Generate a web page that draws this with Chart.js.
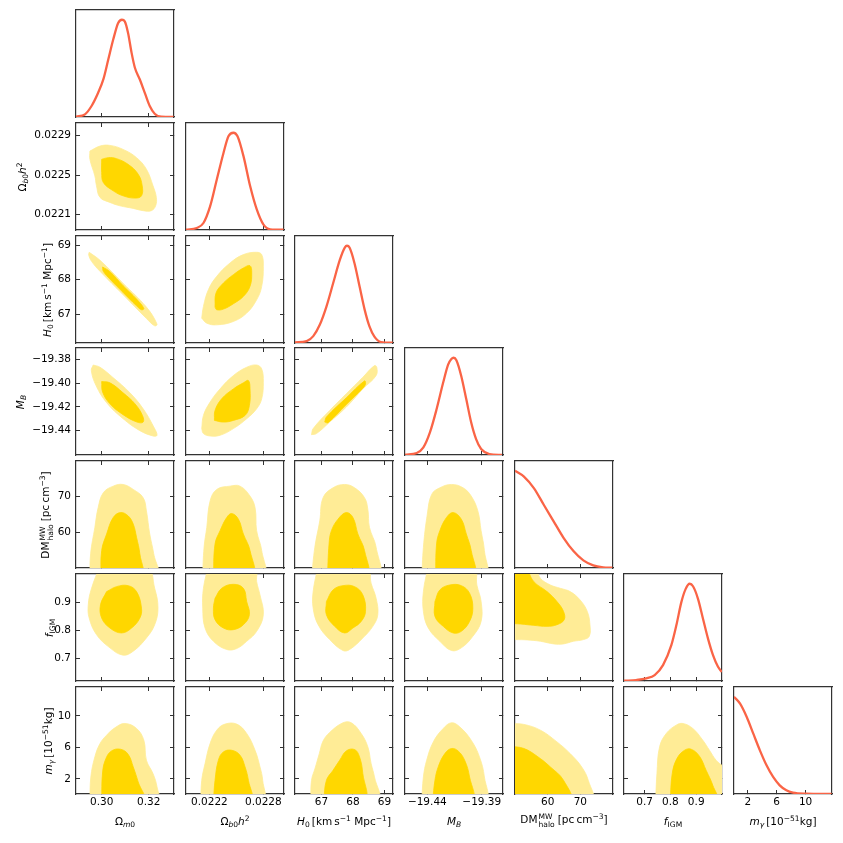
<!DOCTYPE html>
<html>
<head>
<meta charset="utf-8">
<script src="https://cdn.jsdelivr.net/npm/chart.js@4.4.1/dist/chart.umd.min.js"></script>
<style>
  body { margin: 0; background: #fff; width: 843px; height: 843px; position: relative; overflow: hidden; font-family: "DejaVu Sans", sans-serif; }
  canvas { position: absolute; }
  .lab { position: absolute; font-size: 10.5px; color: #000; white-space: nowrap; line-height: 1; }
  .lab sub, .lab sup { font-size: 0.72em; line-height: 0; }
  .lab sub { vertical-align: -0.3em; }
  .lab sup { vertical-align: 0.5em; }
  .ss { display: inline-flex; flex-direction: column; font-size: 0.72em; line-height: 1; vertical-align: 0.45em; margin: 0 1px; }
</style>
</head>
<body>
<script>
// axis ranges for the 7 parameters (Om, Ob h^2, H0, MB, DM_halo, f_IGM, m_gamma)
const axisMin = [0.2891, 0.02194, 66.16, -19.4605, 50, 0.62, 0.1];
const axisMax = [0.3307, 0.02303, 69.27, -19.3705, 80, 1.0, 13.65];

// tick values / labels along x (columns) and y (rows)
const xTickVals = [[0.30, 0.32], [0.0222, 0.0228], [67, 68, 69], [-19.44, -19.39], [60, 70], [0.7, 0.8, 0.9], [2, 6, 10]];
const xTickText = [["0.30", "0.32"], ["0.0222", "0.0228"], ["67", "68", "69"], ["\u221219.44", "\u221219.39"], ["60", "70"], ["0.7", "0.8", "0.9"], ["2", "6", "10"]];
const yTickVals = [[], [0.0221, 0.0225, 0.0229], [67, 68, 69], [-19.44, -19.42, -19.40, -19.38], [60, 70], [0.7, 0.8, 0.9], [2, 6, 10]];
const yTickText = [[], ["0.0221", "0.0225", "0.0229"], ["67", "68", "69"], ["\u221219.44", "\u221219.42", "\u221219.40", "\u221219.38"], ["60", "70"], ["0.7", "0.8", "0.9"], ["2", "6", "10"]];

// 1D marginal posteriors (peak normalised to 1)
const pdfOm = [[0.2891,0.003],[0.2929,0.027],[0.2957,0.113],[0.2985,0.249],[0.3007,0.386],[0.3028,0.591],[0.3049,0.796],[0.3070,0.967],[0.3086,1.0],[0.3098,0.984],[0.3112,0.864],[0.3127,0.659],[0.3141,0.506],[0.3162,0.386],[0.3183,0.249],[0.3204,0.113],[0.3225,0.034],[0.3253,0.003],[0.3305,0.0]];
const pdfOb = [[0.02194,0.003],[0.022060,0.021],[0.022134,0.072],[0.022208,0.243],[0.022282,0.517],[0.022357,0.792],[0.022412,0.963],[0.022468,1.0],[0.022513,0.963],[0.022580,0.757],[0.022654,0.449],[0.022728,0.209],[0.022802,0.055],[0.022877,0.007],[0.023025,0.003]];
const pdfH0 = [[66.16,0.007],[66.53,0.02],[66.74,0.071],[66.95,0.19],[67.16,0.377],[67.37,0.614],[67.58,0.852],[67.74,0.981],[67.81,1.0],[67.89,0.981],[68.05,0.818],[68.21,0.58],[68.37,0.343],[68.52,0.173],[68.68,0.065],[68.89,0.01],[69.26,0.003]];
const pdfMB = [[-19.4603,0.003],[-19.4497,0.02],[-19.4436,0.078],[-19.4376,0.232],[-19.4315,0.47],[-19.4255,0.742],[-19.4209,0.93],[-19.4179,0.988],[-19.4158,1.0],[-19.4133,0.974],[-19.4088,0.81],[-19.4042,0.572],[-19.3997,0.334],[-19.3952,0.163],[-19.3906,0.061],[-19.3830,0.01],[-19.3715,0.0]];
const pdfDM = [[50.0,1.0],[52.74,0.94],[55.77,0.821],[58.8,0.65],[61.83,0.48],[64.86,0.31],[67.89,0.174],[70.92,0.078],[73.95,0.027],[76.98,0.007],[79.8,0.003]];
const pdfF = [[0.62,0.003],[0.6679,0.01],[0.7067,0.027],[0.7390,0.061],[0.7713,0.163],[0.8036,0.368],[0.8230,0.572],[0.8424,0.811],[0.8592,0.947],[0.8747,1.0],[0.8876,0.974],[0.9069,0.845],[0.9263,0.64],[0.9457,0.436],[0.9651,0.266],[0.9845,0.146],[0.9995,0.093]];
const pdfMg = [[0.1,1.0],[0.94,0.929],[1.86,0.792],[2.77,0.62],[3.68,0.449],[4.6,0.295],[5.51,0.175],[6.42,0.089],[7.34,0.038],[8.25,0.014],[10.08,0.003],[13.6,0.0]];

// 2D contours: ...2 = outer (95%), ...1 = inner (68%)
const cOmOb2 = [[0.2950,0.022744],[0.2993,0.022795],[0.3035,0.022802],[0.3091,0.022761],[0.3148,0.022677],[0.3190,0.022559],[0.3218,0.022390],[0.3232,0.022272],[0.3229,0.022187],[0.3211,0.022137],[0.3176,0.022137],[0.3134,0.022160],[0.3077,0.022187],[0.3035,0.022221],[0.2993,0.022272],[0.2978,0.022390],[0.2971,0.022491],[0.2950,0.022660]];
const cOmOb1 = [[0.3000,0.022660],[0.3028,0.022677],[0.3063,0.022667],[0.3112,0.022609],[0.3155,0.022508],[0.3172,0.022390],[0.3169,0.022288],[0.3141,0.022265],[0.3091,0.022288],[0.3049,0.022339],[0.3007,0.022424],[0.3000,0.022525]];
const cOmH2 = [[0.2947,68.797],[0.2993,68.564],[0.3091,67.893],[0.3190,67.203],[0.3235,66.708],[0.3225,66.659],[0.3190,66.873],[0.3091,67.563],[0.2993,68.243],[0.2957,68.534],[0.2945,68.719]];
const cOmH1 = [[0.3004,68.369],[0.3035,68.233],[0.3091,67.825],[0.3148,67.437],[0.3179,67.164],[0.3169,67.126],[0.3148,67.242],[0.3091,67.631],[0.3035,68.020],[0.3007,68.243]];
const cOmMB2 = [[0.2964,-19.3848],[0.2993,-19.3867],[0.3049,-19.3955],[0.3119,-19.4080],[0.3176,-19.4216],[0.3221,-19.4369],[0.3235,-19.4439],[0.3218,-19.4445],[0.3162,-19.4400],[0.3091,-19.4300],[0.3021,-19.4165],[0.2976,-19.4021],[0.2956,-19.3895]];
const cOmMB1 = [[0.3000,-19.3987],[0.3035,-19.3998],[0.3091,-19.4082],[0.3141,-19.4174],[0.3173,-19.4272],[0.3176,-19.4328],[0.3150,-19.4328],[0.3091,-19.4266],[0.3035,-19.4174],[0.3004,-19.4076]];
const cOmDM2 = [[0.2950,47],[0.2953,53.97],[0.2971,61.38],[0.2985,66.94],[0.3007,71.10],[0.3049,72.95],[0.3091,73.42],[0.3134,72.03],[0.3176,69.71],[0.3190,66.01],[0.3204,59.53],[0.3221,53.97],[0.3235,47]];
const cOmDM1 = [[0.2997,47],[0.3000,54.90],[0.3021,59.53],[0.3049,64.16],[0.3080,65.55],[0.3112,64.62],[0.3134,62.31],[0.3148,58.60],[0.3162,53.97],[0.3169,47]];
const cOmF2 = [[0.2993,1.03],[0.2957,0.9493],[0.2943,0.8905],[0.2947,0.8435],[0.2978,0.7847],[0.3035,0.7377],[0.3091,0.7118],[0.3134,0.7259],[0.3190,0.7729],[0.3225,0.8199],[0.3239,0.8787],[0.3225,0.9493],[0.3190,1.03]];
const cOmF1 = [[0.3021,0.9375],[0.3063,0.9551],[0.3112,0.9587],[0.3148,0.9375],[0.3169,0.8787],[0.3162,0.8435],[0.3127,0.8082],[0.3084,0.7906],[0.3035,0.8082],[0.3000,0.8435],[0.2995,0.8905]];
const cOmMg2 = [[0.2950,-0.8],[0.2954,2.26],[0.2971,4.80],[0.2993,6.49],[0.3021,7.55],[0.3056,8.48],[0.3098,9.03],[0.3148,8.40],[0.3179,6.91],[0.3190,4.37],[0.3218,2.68],[0.3235,0.99],[0.3238,-0.8]];
const cOmMg1 = [[0.3000,-0.8],[0.3004,2.89],[0.3018,4.59],[0.3042,5.56],[0.3080,5.77],[0.3112,5.14],[0.3134,3.53],[0.3155,1.62],[0.3179,-0.8]];

const cObH2 = [[0.022115,66.883],[0.022134,67.223],[0.022189,67.709],[0.022282,68.097],[0.022430,68.486],[0.022578,68.729],[0.022726,68.797],[0.022782,68.729],[0.022800,68.389],[0.022782,67.806],[0.022726,67.417],[0.022615,67.029],[0.022467,66.785],[0.022282,66.688],[0.022171,66.737]];
const cObH1 = [[0.022263,67.203],[0.022274,67.612],[0.022356,67.903],[0.022467,68.146],[0.022578,68.340],[0.022652,68.408],[0.022671,68.195],[0.022652,67.806],[0.022578,67.514],[0.022467,67.301],[0.022356,67.145],[0.022282,67.126]];
const cObMB2 = [[0.022115,-19.4383],[0.022134,-19.4272],[0.022208,-19.4160],[0.022319,-19.4049],[0.022467,-19.3937],[0.022615,-19.3867],[0.022726,-19.3848],[0.022782,-19.3881],[0.022800,-19.3993],[0.022782,-19.4132],[0.022726,-19.4216],[0.022615,-19.4300],[0.022467,-19.4383],[0.022319,-19.4439],[0.022208,-19.4445],[0.022134,-19.4425]];
const cObMB1 = [[0.022256,-19.4314],[0.022263,-19.4230],[0.022337,-19.4132],[0.022467,-19.4049],[0.022578,-19.3998],[0.022634,-19.3979],[0.022652,-19.4049],[0.022645,-19.4188],[0.022597,-19.4272],[0.022467,-19.4314],[0.022356,-19.4328]];
const cObDM2 = [[0.022123,47],[0.022141,55.82],[0.022171,61.38],[0.022208,68.79],[0.022282,72.03],[0.022430,72.95],[0.022541,72.95],[0.022652,70.17],[0.022708,66.94],[0.022726,60.45],[0.022782,54.90],[0.022800,47]];
const cObDM1 = [[0.022245,47],[0.022263,56.75],[0.022319,60.45],[0.022393,64.16],[0.022449,65.27],[0.022523,63.69],[0.022578,59.53],[0.022652,54.90],[0.022682,47]];
const cObF2 = [[0.022189,1.03],[0.022134,0.9493],[0.022126,0.8787],[0.022152,0.8082],[0.022245,0.7611],[0.022393,0.7318],[0.022504,0.7353],[0.022615,0.7611],[0.022726,0.7964],[0.022800,0.8552],[0.022763,0.9257],[0.022726,0.9728],[0.022708,1.03]];
const cObF1 = [[0.022263,0.9140],[0.022337,0.9493],[0.022467,0.9634],[0.022578,0.9493],[0.022615,0.9022],[0.022645,0.8552],[0.022578,0.8199],[0.022467,0.8023],[0.022356,0.8082],[0.022263,0.8376],[0.022245,0.8787]];
const cObMg2 = [[0.022104,-0.8],[0.022115,1.83],[0.022152,3.95],[0.022208,6.49],[0.022282,8.18],[0.022374,8.95],[0.022504,8.95],[0.022615,7.76],[0.022708,5.64],[0.022763,3.53],[0.022793,1.83],[0.022793,-0.8]];
const cObMg1 = [[0.022245,-0.8],[0.022263,1.83],[0.022300,4.37],[0.022356,5.43],[0.022449,5.64],[0.022541,5.01],[0.022597,3.53],[0.022634,1.83],[0.022660,-0.8]];

const cHMB2 = [[66.684,-19.4434],[66.736,-19.4383],[67.262,-19.4230],[67.788,-19.4090],[68.313,-19.3951],[68.682,-19.3853],[68.755,-19.3867],[68.734,-19.3937],[68.313,-19.4049],[67.788,-19.4202],[67.262,-19.4328],[66.841,-19.4425]];
const cHMB1 = [[67.104,-19.4328],[67.157,-19.4286],[67.788,-19.4124],[68.366,-19.3982],[68.398,-19.4007],[68.313,-19.4043],[67.788,-19.4180],[67.209,-19.4333]];
const cHDM2 = [[66.684,47],[66.789,55.82],[66.946,63.23],[67.051,69.71],[67.367,72.49],[67.735,73.42],[68.051,72.49],[68.366,69.71],[68.471,66.47],[68.524,61.38],[68.734,55.82],[68.787,47]];
const cHDM1 = [[67.188,47],[67.241,56.75],[67.315,60.45],[67.525,63.69],[67.788,65.55],[67.998,64.16],[68.156,59.53],[68.366,54.90],[68.440,47]];
const cHF2 = [[66.894,1.03],[66.736,0.9375],[66.736,0.8787],[66.894,0.8199],[67.262,0.7670],[67.683,0.7282],[67.893,0.7318],[68.313,0.7729],[68.629,0.8141],[68.787,0.8552],[68.734,0.9140],[68.576,0.9669],[68.440,1.03]];
const cHF1 = [[67.157,0.9022],[67.367,0.9434],[67.683,0.9587],[68.051,0.9551],[68.313,0.9257],[68.398,0.8670],[68.261,0.8317],[67.998,0.8082],[67.735,0.7906],[67.420,0.8141],[67.157,0.8552]];
const cHMg2 = [[66.662,-0.8],[66.684,1.83],[66.800,3.40],[66.930,5.20],[67.050,6.80],[67.262,7.90],[67.683,9.12],[67.946,9.12],[68.261,7.76],[68.471,6.07],[68.576,3.95],[68.682,2.26],[68.787,-0.8]];
const cHMg1 = [[67.073,-0.8],[67.157,1.83],[67.367,3.10],[67.577,4.37],[67.788,5.56],[68.051,5.73],[68.208,4.80],[68.313,2.68],[68.366,-0.8]];

const cMBDM2 = [[-19.4451,47],[-19.4436,55.82],[-19.4400,65.08],[-19.4360,70.64],[-19.4285,72.49],[-19.4178,73.42],[-19.4072,72.49],[-19.3997,70.17],[-19.3936,66.01],[-19.3906,60.45],[-19.3876,54.90],[-19.3869,47]];
const cMBDM1 = [[-19.4324,47],[-19.4315,56.75],[-19.4285,60.45],[-19.4224,64.16],[-19.4163,65.55],[-19.4088,63.69],[-19.4042,59.53],[-19.3997,54.90],[-19.3972,47]];
const cMBF2 = [[-19.4391,1.03],[-19.4436,0.9375],[-19.4436,0.8670],[-19.4391,0.8082],[-19.4285,0.7611],[-19.4178,0.7282],[-19.4088,0.7377],[-19.3982,0.7788],[-19.3906,0.8317],[-19.3906,0.9022],[-19.3945,0.9610],[-19.3975,1.03]];
const cMBF1 = [[-19.4330,0.9022],[-19.4285,0.9434],[-19.4194,0.9610],[-19.4088,0.9587],[-19.4012,0.9316],[-19.3982,0.8787],[-19.4012,0.8317],[-19.4088,0.7964],[-19.4163,0.7906],[-19.4254,0.8141],[-19.4330,0.8494]];
const cMBMg2 = [[-19.4451,-0.8],[-19.4436,2.26],[-19.4406,4.37],[-19.4345,6.70],[-19.4254,8.40],[-19.4178,9.12],[-19.4103,8.61],[-19.3997,6.91],[-19.3921,4.80],[-19.3876,2.26],[-19.3869,-0.8]];
const cMBMg1 = [[-19.4351,-0.8],[-19.4330,1.83],[-19.4300,3.53],[-19.4239,5.22],[-19.4178,5.86],[-19.4118,5.56],[-19.4057,4.37],[-19.4012,2.26],[-19.3988,-0.8]];

const cDMF2 = [[48.5,1.03],[55.77,1.03],[57.79,0.9846],[60.82,0.9610],[63.85,0.9493],[66.88,0.9375],[69.91,0.9081],[72.13,0.8670],[72.94,0.8199],[72.74,0.7788],[70.92,0.7670],[67.89,0.7611],[64.86,0.7518],[61.83,0.7518],[57.79,0.7611],[53.75,0.7659],[50.0,0.7670],[48.5,0.7670]];
const cDMF1 = [[48.5,1.03],[52.74,1.03],[55.77,0.9728],[59.81,0.9375],[62.84,0.9022],[64.86,0.8670],[65.06,0.8376],[62.84,0.8199],[59.81,0.8141],[55.77,0.8176],[51.73,0.8223],[50.0,0.8235],[48.5,0.8235]];
const cDMMg2 = [[48.5,9.03],[52.74,8.91],[57.79,8.18],[62.84,6.70],[66.88,5.22],[70.41,3.53],[72.43,1.83],[73.44,-0.8],[48.5,-0.8]];
const cDMMg1 = [[48.5,6.15],[52.74,5.86],[56.78,4.88],[60.82,3.53],[64.86,1.83],[66.88,-0.8],[48.5,-0.8]];

const cFMg2 = [[0.7425,-0.8],[0.7477,2.68],[0.7580,6.07],[0.7838,7.76],[0.8225,8.82],[0.8483,9.03],[0.8869,8.40],[0.9256,6.91],[0.9514,5.64],[0.9772,4.37],[1.02,2.9],[1.02,-0.8]];
const cFMg1 = [[0.7993,-0.8],[0.8070,2.68],[0.8251,4.58],[0.8547,5.64],[0.8805,5.77],[0.9127,4.88],[0.9385,3.10],[0.9643,1.20],[0.9798,-0.8]];

const diagCurves = [pdfOm, pdfOb, pdfH0, pdfMB, pdfDM, pdfF, pdfMg];

// [row, col, outer, inner]
const contourPanels = [
  [1, 0, cOmOb2, cOmOb1],
  [2, 0, cOmH2, cOmH1], [2, 1, cObH2, cObH1],
  [3, 0, cOmMB2, cOmMB1], [3, 1, cObMB2, cObMB1], [3, 2, cHMB2, cHMB1],
  [4, 0, cOmDM2, cOmDM1], [4, 1, cObDM2, cObDM1], [4, 2, cHDM2, cHDM1], [4, 3, cMBDM2, cMBDM1],
  [5, 0, cOmF2, cOmF1], [5, 1, cObF2, cObF1], [5, 2, cHF2, cHF1], [5, 3, cMBF2, cMBF1], [5, 4, cDMF2, cDMF1],
  [6, 0, cOmMg2, cOmMg1], [6, 1, cObMg2, cObMg1], [6, 2, cHMg2, cHMg1], [6, 3, cMBMg2, cMBMg1], [6, 4, cDMMg2, cDMMg1], [6, 5, cFMg2, cFMg1]
];

const xLabels = [
  'Ω<sub><i>m</i>0</sub>',
  'Ω<sub><i>b</i>0</sub><i>h</i><sup>2</sup>',
  '<i>H</i><sub>0</sub>&thinsp;[km&thinsp;s<sup>−1</sup> Mpc<sup>−1</sup>]',
  '<i>M</i><sub><i>B</i></sub>',
  'DM<span class="ss"><span>MW</span><span>halo</span></span>&thinsp;[pc&thinsp;cm<sup>−3</sup>]',
  '<i>f</i><sub>IGM</sub>',
  '<i>m</i><sub><i>γ</i></sub>&thinsp;[10<sup>−51</sup>kg]'
];
const yLabelX = [0, 22, 47, 20, 47, 49, 48];

const SPINE = '#333333';
const LINE = '#fa6446';
const INNER = '#ffd700';
const OUTER = '#ffec96';

const PW = 98, PH = 107;
function panelLeft(col) { return Math.round(76 + col * 109.67); }
function panelTop(row) { return Math.round(10.3 + row * 112.73); }

function buildAxis(pos, min, max, vals, texts, size, showLabels) {
  const horizontal = pos === 'top' || pos === 'bottom';
  return {
    type: 'linear',
    position: pos,
    min: min,
    max: max,
    grid: { display: true, drawOnChartArea: false, drawTicks: true, tickLength: -4, tickWidth: 1, tickColor: SPINE },
    border: { display: true, color: SPINE, width: 1.2 },
    ticks: {
      display: showLabels,
      autoSkip: false,
      maxRotation: 0,
      padding: horizontal ? 6 : 9,
      color: '#000',
      font: { family: 'DejaVu Sans', size: 10.5 },
      callback: function(value, index) { return texts[index]; }
    },
    afterBuildTicks: function(axis) { axis.ticks = vals.map(v => ({ value: v })); },
    afterFit: function(axis) {
      // keep the plot box fixed: no extra room for overhanging labels
      axis.paddingLeft = 0; axis.paddingRight = 0; axis.paddingTop = 0; axis.paddingBottom = 0;
      if (horizontal) axis.height = size; else axis.width = size;
    }
  };
}

function toPoints(arr, close) {
  const pts = arr.map(p => ({ x: p[0], y: p[1] }));
  if (close) pts.push({ x: arr[0][0], y: arr[0][1] });
  return pts;
}

function makePanel(row, col, datasets, diag) {
  const padL = (col === 0 && !diag) ? 60 : 0;
  const padB = row === 6 ? 24 : 0;
  const cv = document.createElement('canvas');
  cv.width = PW + padL + 4;
  cv.height = PH + padB + 4;
  cv.style.left = (panelLeft(col) - padL - 2) + 'px';
  cv.style.top = (panelTop(row) - 2) + 'px';
  document.body.appendChild(cv);

  const xs = xTickVals[col];
  const ys = diag ? [] : yTickVals[row];
  const yMin = diag ? 0 : axisMin[row];
  const yMax = diag ? 1.1 : axisMax[row];

  new Chart(cv, {
    type: 'scatter',
    data: { datasets: datasets },
    options: {
      responsive: false,
      animation: false,
      events: [],
      layout: { padding: { left: 2, right: 2, top: 2, bottom: 2 } },
      plugins: { legend: { display: false }, tooltip: { enabled: false } },
      scales: {
        x: buildAxis('bottom', axisMin[col], axisMax[col], xs, xTickText[col], padB, row === 6),
        x2: buildAxis('top', axisMin[col], axisMax[col], diag ? [] : xs, xTickText[col], 0, false),
        y: buildAxis('left', yMin, yMax, ys, diag ? [] : yTickText[row], padL, padL > 0),
        y2: buildAxis('right', yMin, yMax, ys, diag ? [] : yTickText[row], 0, false)
      }
    }
  });
}

// diagonal panels
diagCurves.forEach(function(curve, i) {
  makePanel(i, i, [{
    data: toPoints(curve, false),
    showLine: true,
    borderColor: LINE,
    borderWidth: 2.3,
    pointRadius: 0,
    cubicInterpolationMode: 'monotone',
    fill: false
  }], true);
});

// off-diagonal contour panels
contourPanels.forEach(function(p) {
  const common = { showLine: true, pointRadius: 0, tension: 0.4, fill: 'shape', borderWidth: 0.8 };
  makePanel(p[0], p[1], [
    Object.assign({ data: toPoints(p[3], true), backgroundColor: INNER, borderColor: INNER }, common),
    Object.assign({ data: toPoints(p[2], true), backgroundColor: OUTER, borderColor: OUTER }, common)
  ], false);
});

// axis titles
xLabels.forEach(function(html, col) {
  const d = document.createElement('div');
  d.className = 'lab';
  d.innerHTML = html;
  d.style.left = (panelLeft(col) + PW / 2) + 'px';
  d.style.top = '821px';
  d.style.transform = 'translate(-50%, -50%)';
  document.body.appendChild(d);
});
for (let row = 1; row < 7; row++) {
  const d = document.createElement('div');
  d.className = 'lab';
  d.innerHTML = xLabels[row];
  d.style.left = yLabelX[row] + 'px';
  d.style.top = (panelTop(row) + PH / 2) + 'px';
  d.style.transform = 'translate(-50%, -50%) rotate(-90deg)';
  document.body.appendChild(d);
}
</script>
</body>
</html>
